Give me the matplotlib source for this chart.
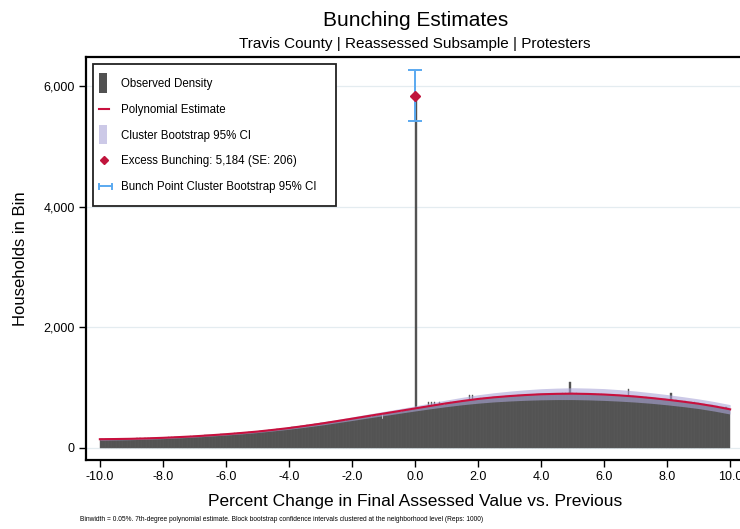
import numpy as np
import matplotlib
matplotlib.use("Agg")
import matplotlib.pyplot as plt
from matplotlib.patches import Rectangle
from matplotlib.lines import Line2D
from matplotlib.legend_handler import HandlerBase

plt.rcParams['font.family'] = ['Liberation Sans', 'DejaVu Sans']

# ---- data -------------------------------------------------------------
bin_width = 0.05
bin_start = -10.0

# household counts per 0.05% bin, one row per 1% of the running variable
counts = [
    141, 146, 139, 148, 144, 150, 143, 147, 152, 145, 149, 141, 151, 146, 150, 148, 144, 153, 147, 151,
    150, 155, 149, 157, 152, 158, 154, 151, 160, 156, 158, 153, 162, 159, 157, 164, 160, 163, 166, 161,
    167, 171, 165, 174, 170, 176, 172, 179, 175, 181, 177, 184, 180, 186, 183, 189, 185, 192, 188, 194,
    196, 199, 201, 198, 205, 203, 209, 207, 212, 210, 215, 213, 219, 217, 222, 220, 225, 228, 224, 231,
    229, 235, 232, 238, 236, 241, 239, 246, 243, 249, 247, 252, 255, 251, 259, 256, 262, 260, 266, 268,
    271, 276, 274, 281, 279, 287, 284, 291, 289, 297, 294, 301, 306, 303, 311, 309, 316, 321, 318, 329,
    338, 345, 342, 350, 347, 355, 352, 359, 365, 361, 369, 373, 370, 378, 383, 380, 389, 394, 391, 402,
    408, 415, 412, 421, 418, 426, 423, 431, 436, 433, 441, 446, 443, 452, 456, 453, 462, 468, 465, 476,
    483, 490, 488, 496, 493, 501, 498, 507, 512, 509, 517, 522, 519, 528, 533, 530, 539, 545, 541, 482,
    568, 563, 579, 575, 584, 580, 589, 594, 591, 599, 604, 601, 610, 615, 612, 621, 626, 623, 633, 640,
    5834, 662, 668, 665, 673, 679, 676, 684, 760, 695, 758, 701, 765, 706, 712, 755, 717, 723, 720, 741,
    746, 750, 755, 752, 761, 758, 765, 770, 767, 775, 779, 776, 784, 788, 885, 793, 880, 794, 803, 811,
    816, 820, 818, 825, 822, 829, 833, 830, 836, 839, 837, 843, 846, 844, 849, 852, 850, 855, 858, 861,
    862, 866, 864, 869, 867, 871, 874, 872, 876, 878, 877, 880, 882, 881, 884, 886, 885, 888, 889, 891,
    890, 893, 889, 895, 892, 897, 893, 899, 895, 901, 897, 902, 898, 904, 900, 909, 899, 905, 1085, 903,
    901, 898, 903, 896, 900, 894, 899, 892, 897, 890, 895, 889, 893, 887, 891, 886, 889, 884, 888, 883,
    884, 880, 883, 876, 879, 872, 875, 868, 871, 870, 866, 862, 864, 858, 860, 980, 856, 851, 853, 848,
    848, 845, 842, 846, 838, 835, 839, 831, 828, 832, 824, 821, 825, 817, 814, 818, 810, 807, 811, 802,
    799, 795, 905, 791, 786, 789, 782, 778, 781, 773, 769, 772, 764, 760, 763, 755, 751, 754, 746, 740,
    733, 728, 730, 722, 717, 720, 711, 706, 708, 699, 694, 696, 687, 682, 684, 674, 669, 671, 660, 648,
]

# fitted 7th-degree polynomial and its cluster-bootstrap 95% band
fit_x = [-10.0, -9.5, -9.0, -8.5, -8.0, -7.5, -7.0, -6.5, -6.0, -5.5, -5.0,
         -4.5, -4.0, -3.5, -3.0, -2.5, -2.0, -1.5, -1.0, -0.5, 0.0,
         0.5, 1.0, 1.5, 2.0, 2.5, 3.0, 3.5, 4.0, 4.5, 5.0,
         5.5, 6.0, 6.5, 7.0, 7.5, 8.0, 8.5, 9.0, 9.5, 10.0]
fit_y = [145, 148, 152, 159, 168, 180, 193, 210, 228, 249, 272,
         300, 330, 365, 402, 443, 485, 528, 570, 612, 655,
         698, 740, 778, 812, 839, 860, 877, 890, 897, 900,
         895, 886, 871, 852, 828, 800, 768, 733, 690, 640]
ci_half = [18, 16, 15, 14, 14, 14, 14, 14, 15, 16, 17,
           18, 20, 22, 25, 27, 30, 32, 35, 38, 42,
           48, 55, 62, 70, 76, 82, 87, 92, 95, 98,
           98, 98, 95, 92, 88, 85, 82, 80, 79, 78]

bunch_x = 0.0
bunch_y = 5834
bunch_ci = (5420, 6270)
excess_label = "Excess Bunching: 5,184 (SE: 206)"

x_ticks = [-10, -8, -6, -4, -2, 0, 2, 4, 6, 8, 10]
y_ticks = [0, 2000, 4000, 6000]

# ---- colours -----------------------------------------------------------
bar_col = "#515151"
band_col = "#aaa5d7"
line_col = "#c8103e"
diamond_col = "#c0143c"
err_col = "#5aa9f0"

# ---- figure ------------------------------------------------------------
fig = plt.figure(figsize=(7.40, 5.29), dpi=100)
ax = fig.add_axes([0.1162, 0.1304, 0.8892, 0.7618])

edges = bin_start + bin_width * np.arange(len(counts))
ax.bar(edges, counts, width=bin_width, align='edge', color=bar_col,
       edgecolor='#5c5c5c', linewidth=0.3, zorder=2)

fx = np.array(fit_x)
fy = np.array(fit_y)
ch = np.array(ci_half)
ax.fill_between(fx, fy - ch, fy + ch, color=band_col, alpha=0.6,
                linewidth=0, zorder=3)
ax.plot(fx, fy, color=line_col, lw=1.5, zorder=4)

ax.errorbar([bunch_x], [bunch_y],
            yerr=[[bunch_y - bunch_ci[0]], [bunch_ci[1] - bunch_y]],
            fmt='none', ecolor=err_col, elinewidth=1.4, capsize=5,
            capthick=1.4, zorder=5)
ax.plot([bunch_x], [bunch_y], marker='D', ms=5, color=diamond_col,
        ls='none', zorder=6)

ax.set_xlim(-10.44, 10.44)
ax.set_ylim(-200, 6480)
ax.set_xticks(x_ticks)
ax.set_xticklabels([f"{t:.1f}" for t in x_ticks], fontsize=9)
ax.set_yticks(y_ticks)
ax.set_yticklabels([f"{t:,}" for t in y_ticks], fontsize=9)
ax.tick_params(axis='both', direction='out', length=5, width=1.0,
               color='black', pad=3)
ax.grid(axis='y', color='#e4ecf0', lw=0.9, zorder=0)
ax.set_axisbelow(True)

for side in ('left', 'top', 'bottom'):
    ax.spines[side].set_linewidth(1.6)
    ax.spines[side].set_color('black')
ax.spines['right'].set_visible(False)

ax.set_xlabel("Percent Change in Final Assessed Value vs. Previous",
              fontsize=12.5, labelpad=8)
ax.set_ylabel("Households in Bin", fontsize=12, labelpad=11)

fig.text(0.561, 0.962, "Bunching Estimates", ha='center', va='center',
         fontsize=15)
fig.text(0.560, 0.916, "Travis County | Reassessed Subsample | Protesters",
         ha='center', va='center', fontsize=11)
fig.text(0.108, 0.018,
         "Binwidth = 0.05%. 7th-degree polynomial estimate. Block bootstrap "
         "confidence intervals clustered at the neighborhood level (Reps: 1000)",
         ha='left', va='center', fontsize=4.8)


# ---- legend --------------------------------------------------------------
class TallBox(HandlerBase):
    def __init__(self, color, alpha=1.0):
        super().__init__()
        self.color = color
        self.alpha = alpha

    def create_artists(self, legend, orig_handle, xd, yd, width, height,
                       fontsize, trans):
        w = 0.55 * width
        h = height * 2.4
        r = Rectangle((xd, yd + height / 2 - h / 2), w, h,
                      facecolor=self.color, alpha=self.alpha,
                      edgecolor='none', transform=trans)
        return [r]


class CapBar(HandlerBase):
    def create_artists(self, legend, orig_handle, xd, yd, width, height,
                       fontsize, trans):
        y = yd + height / 2
        x0 = xd
        x1 = xd + 0.85 * width
        h = height * 0.6
        arts = [Line2D([x0, x1], [y, y], color=err_col, lw=1.4, transform=trans),
                Line2D([x0, x0], [y - h / 2, y + h / 2], color=err_col, lw=1.4,
                       transform=trans),
                Line2D([x1, x1], [y - h / 2, y + h / 2], color=err_col, lw=1.4,
                       transform=trans)]
        return arts


class ShortLine(HandlerBase):
    def create_artists(self, legend, orig_handle, xd, yd, width, height,
                       fontsize, trans):
        y = yd + height / 2
        return [Line2D([xd, xd + 0.65 * width], [y, y],
                       color=line_col, lw=1.5, transform=trans)]


class Diamond(HandlerBase):
    def create_artists(self, legend, orig_handle, xd, yd, width, height,
                       fontsize, trans):
        y = yd + height / 2
        return [Line2D([xd + 0.3 * width], [y], marker='D', ms=4.5,
                       color=diamond_col, ls='none', transform=trans)]


h_obs = object.__new__(type('ObsHandle', (), {}))
h_poly = object.__new__(type('PolyHandle', (), {}))
h_band = object.__new__(type('BandHandle', (), {}))
h_dia = object.__new__(type('DiaHandle', (), {}))
h_err = object.__new__(type('ErrHandle', (), {}))

# legend frame drawn as its own box, entries placed inside it
ax.add_patch(Rectangle((0.01064, 0.6303), 0.3693, 0.3523,
                       transform=ax.transAxes, facecolor='white',
                       edgecolor='#222222', linewidth=1.3, zorder=9))

leg = ax.legend(
    [h_obs, h_poly, h_band, h_dia, h_err],
    ["Observed Density", "Polynomial Estimate", "Cluster Bootstrap 95% CI",
     excess_label, "Bunch Point Cluster Bootstrap 95% CI"],
    handler_map={type(h_obs): TallBox(bar_col),
                 type(h_poly): ShortLine(),
                 type(h_band): TallBox(band_col, 0.6),
                 type(h_dia): Diamond(),
                 type(h_err): CapBar()},
    loc='upper left', bbox_to_anchor=(0.0198, 0.948), fontsize=8.3,
    frameon=False, handlelength=1.3, handletextpad=0.6, labelspacing=1.2,
    borderpad=0, borderaxespad=0)
leg.set_zorder(10)

fig.savefig("out.png", dpi=100)
